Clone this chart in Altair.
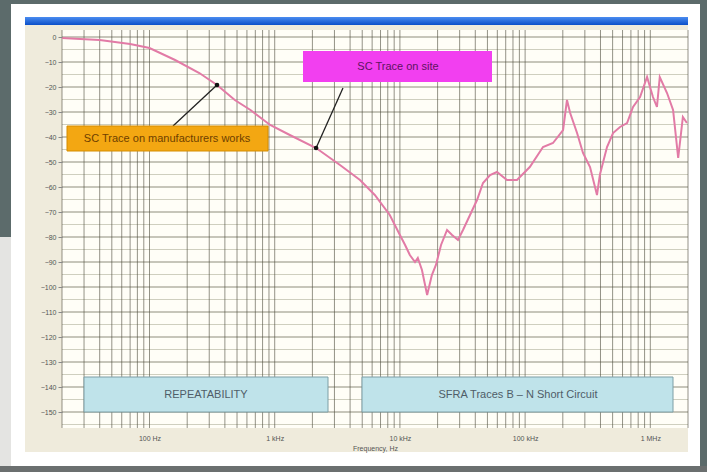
import altair as alt
import pandas as pd

# Short-circuit SFRA trace, frequency (Hz) vs magnitude (dB)
freq_hz = [20, 28, 40, 70, 100, 160, 250, 346, 480, 640, 920, 1320, 2140, 3320,
           4800, 6300, 8300, 10000, 11000, 12000, 13200, 13900, 15000, 16500,
           18000, 19400, 21300, 23800, 26100, 29100, 31900, 36300, 41300, 46100,
           52500, 59600, 71600, 86100, 109000, 139000, 167000, 201000, 216000,
           229000, 260000, 290000, 330000, 375000, 396000, 451000, 504000,
           573000, 652000, 728000, 828000, 942000, 1050000, 1130000, 1190000,
           1360000, 1520000, 1670000, 1820000, 1960000]
trace_db = [-0.4, -0.8, -1.2, -2.8, -4.4, -9.2, -14.4, -19.2, -25.2, -29.2, -35.2,
            -39.2, -44.4, -51.2, -57.2, -63.2, -71.2, -79.2, -83.2, -87.2, -90.0,
            -88.4, -93.2, -103.2, -95.2, -91.2, -83.2, -77.2, -79.2, -81.2, -77.2,
            -71.2, -65.2, -58.4, -55.2, -54.0, -57.2, -57.2, -52.0, -44.0, -42.4,
            -37.2, -25.2, -30.4, -38.4, -46.4, -52.0, -63.2, -55.0, -44.0, -38.4,
            -36.0, -34.4, -28.0, -24.0, -16.0, -24.0, -28.0, -16.0, -22.4, -29.2,
            -48.4, -32.0, -34.4]

decade_ticks = [100, 1000, 10000, 100000, 1000000]
decade_labels = ["100 Hz", "1 kHz", "10 kHz", "100 kHz", "1 MHz"]
db_ticks = list(range(0, -151, -10))

callout_texts = ["SC Trace on manufacturers works", "SC Trace on site"]
# callout arrows: (box end freq, box end dB, curve freq, curve dB)
callout_arrows = [(154, -35.6, 346, -19.2), (3510, -20.4, 2140, -44.4)]
banner_texts = ["REPEATABILITY", "SFRA Traces B \u2013 N Short Circuit"]

W, H = 626, 398
LEFT, TOP = 62, 30
F_MIN, F_MAX = 20, 2000000
DB_TOP, DB_BOTTOM = 2.8, -156.4

one = pd.DataFrame({"k": [0]})

x_scale = alt.Scale(type="log", domain=[F_MIN, F_MAX], nice=False)
y_scale = alt.Scale(domain=[DB_BOTTOM, DB_TOP], nice=False)

label_expr = " : ".join(
    f"datum.value == {v} ? '{t}'" for v, t in zip(decade_ticks, decade_labels)
) + " : ''"

x_axis = alt.Axis(values=decade_ticks, labelExpr=label_expr, title="Frequency, Hz",
                  grid=False, domain=False, ticks=False, zindex=1,
                  labelFontSize=7, labelColor="#555555", labelPadding=6,
                  titleFontSize=7, titleFontWeight="normal", titleColor="#555555",
                  titlePadding=3, labelFont="Liberation Sans", titleFont="Liberation Sans")
y_axis = alt.Axis(values=db_ticks, format="d", title="", grid=False, domain=False,
                  tickSize=4, tickColor="#888888", zindex=1, labelFontSize=7,
                  labelColor="#555555", labelPadding=2, labelFont="Liberation Sans")

x_enc = alt.X("freq:Q", scale=x_scale, axis=x_axis)
y_enc = alt.Y("db:Q", scale=y_scale, axis=y_axis)


def box(x0, y0, x1, y1, fill, stroke=None, width=1):
    kw = {"fill": fill}
    if stroke:
        kw.update(stroke=stroke, strokeWidth=width)
    return alt.Chart(one).mark_rect(**kw).encode(
        x=alt.value(x0 - LEFT), x2=alt.value(x1 - LEFT),
        y=alt.value(y0 - TOP), y2=alt.value(y1 - TOP))


def label(x, y, text, color, size=11, weight="normal"):
    return alt.Chart(one).mark_text(
        font="Liberation Sans", fontSize=size, color=color, fontWeight=weight,
        align="center", baseline="middle").encode(
        x=alt.value(x - LEFT), y=alt.value(y - TOP), text=alt.value(text))


blue_bar = alt.Gradient(gradient="linear", x1=0, y1=0, x2=0, y2=1,
                        stops=[alt.GradientStop(offset=0, color="#4a8cf0"),
                               alt.GradientStop(offset=1, color="#0b4fc9")])

frame = [
    box(0, 237, 11, 466, "#e4e4e2"),
    box(0, 466, 707, 472, "#6b6f6f"),
    box(11, 4, 700, 466, "#ffffff"),
    box(25, 17, 688, 25, blue_bar),
    box(25, 25, 688, 452, "#efebdc"),
    box(LEFT, TOP, LEFT + W, TOP + H, "#fffef7"),
]

# log grid: 1..9 per decade inside the frequency range
grid_f = [m * 10 ** e for e in range(1, 7) for m in range(1, 10)
          if F_MIN <= m * 10 ** e <= F_MAX]
vgrid = alt.Chart(pd.DataFrame({"freq": grid_f})).mark_rule(
    color="#4d4b3c", strokeWidth=1, opacity=0.6).encode(x=x_enc)

minor_db = [v - 5 for v in db_ticks]
hgrid_minor = alt.Chart(pd.DataFrame({"db": minor_db})).mark_rule(
    color="#cfcfbf", strokeWidth=1).encode(y=y_enc)
hgrid_major = alt.Chart(pd.DataFrame({"db": db_ticks})).mark_rule(
    color="#8e8d7d", strokeWidth=1).encode(y=y_enc)

trace = alt.Chart(pd.DataFrame({"freq": freq_hz, "db": trace_db})).mark_line(
    color="#e27ba6", strokeWidth=2).encode(x=x_enc, y=y_enc)

arrow_df = pd.DataFrame(callout_arrows, columns=["freq", "db", "freq2", "db2"])
arrows = alt.Chart(arrow_df).mark_rule(color="#222222", strokeWidth=1.3).encode(
    x=x_enc, y=y_enc, x2="freq2:Q", y2="db2:Q")
dots = alt.Chart(arrow_df).mark_circle(color="#111111", size=22, opacity=1).encode(
    x=alt.X("freq2:Q", scale=x_scale, axis=x_axis),
    y=alt.Y("db2:Q", scale=y_scale, axis=y_axis))

notes = [
    box(67, 126, 268, 151, "#f3a712", "#d58c00"),
    label(167, 139, callout_texts[0], "#6e3f00"),
    box(303, 51, 492, 82, "#f23ff0"),
    label(398, 67, callout_texts[1], "#5e1460"),
    box(84, 377, 328, 412, "#bfe3ea", "#7d9ea6"),
    label(206, 395, banner_texts[0], "#4f5d68"),
    box(362, 377, 673, 412, "#bfe3ea", "#7d9ea6"),
    label(518, 395, banner_texts[1], "#4f5d68"),
]

chart = alt.layer(
    *frame, hgrid_minor, hgrid_major, vgrid, trace, arrows, dots, *notes
).properties(
    width=W, height=H,
    padding={"left": LEFT, "top": TOP, "right": 707 - LEFT - W,
             "bottom": 472 - TOP - H},
    autosize=alt.AutoSizeParams(type="none"),
).configure(background="#5c6b6b").configure_view(stroke=None)

chart.save("out.html", embed_options={"renderer": "svg", "actions": False})
